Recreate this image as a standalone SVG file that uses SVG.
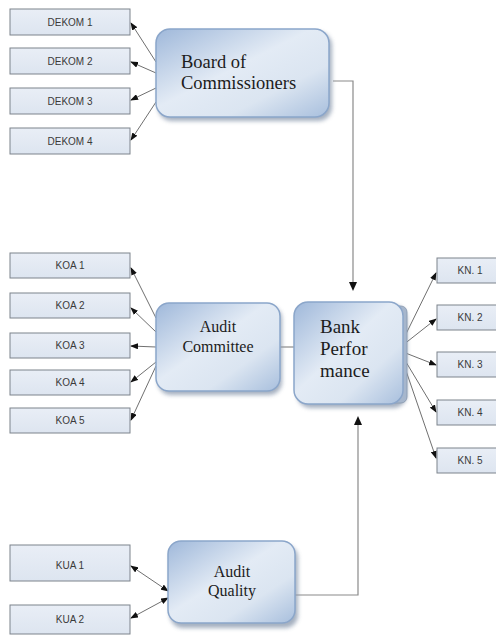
<svg xmlns="http://www.w3.org/2000/svg" width="496" height="635" viewBox="0 0 496 635">
<defs>
<linearGradient id="big" x1="0" y1="0" x2="1" y2="1">
<stop offset="0" stop-color="#9fb8da"/>
<stop offset="0.45" stop-color="#e3ebf5"/>
<stop offset="0.7" stop-color="#dbe5f1"/>
<stop offset="1" stop-color="#a8bfdd"/>
</linearGradient>
<linearGradient id="small" x1="0" y1="0" x2="0" y2="1">
<stop offset="0" stop-color="#e9eef6"/>
<stop offset="1" stop-color="#dde5f0"/>
</linearGradient>
<filter id="sh" x="-10%" y="-10%" width="130%" height="130%">
<feGaussianBlur stdDeviation="2"/>
</filter>
<marker id="ah" markerWidth="8" markerHeight="6" refX="7" refY="3" orient="auto" markerUnits="userSpaceOnUse">
<path d="M0,0 L8,3 L0,6 Z" fill="#111"/>
</marker>
<marker id="as" markerWidth="8" markerHeight="6" refX="1" refY="3" orient="auto" markerUnits="userSpaceOnUse">
<path d="M8,0 L0,3 L8,6 Z" fill="#111"/>
</marker>
</defs>
<style>
.sb{fill:url(#small);stroke:#7d838c;stroke-width:1}
.st{font-family:"Liberation Sans",Arial,sans-serif;font-size:10px;fill:#3a3a3a;text-anchor:middle}
.bb{fill:url(#big);stroke:#8ba6ca;stroke-width:1.5}
.bsh{fill:#8e9cb0;opacity:0.8;filter:url(#sh)}
.bt{font-family:"Liberation Serif","Times New Roman",serif;fill:#1c1c1c}
.c{fill:none;stroke:#4a4a4a;stroke-width:0.8}
.g{fill:none;stroke:#8a8a8a;stroke-width:1.2}
</style>
<rect width="496" height="635" fill="#ffffff"/>

<g id="connectors">
<line class="c" x1="156" y1="62" x2="131" y2="23" marker-end="url(#ah)"/>
<line class="c" x1="156" y1="73" x2="131" y2="62" marker-end="url(#ah)"/>
<line class="c" x1="156" y1="88" x2="131" y2="100" marker-end="url(#ah)"/>
<line class="c" x1="156" y1="102" x2="131" y2="140" marker-end="url(#ah)"/>
<line class="c" x1="156" y1="318" x2="131" y2="268" marker-end="url(#ah)"/>
<line class="c" x1="156" y1="332" x2="131" y2="308" marker-end="url(#ah)"/>
<line class="c" x1="156" y1="347" x2="131" y2="346" marker-end="url(#ah)"/>
<line class="c" x1="156" y1="362" x2="131" y2="382" marker-end="url(#ah)"/>
<line class="c" x1="156" y1="366" x2="131" y2="420" marker-end="url(#ah)"/>
<line class="g" x1="280" y1="347" x2="295" y2="347"/>
<polyline class="g" points="333,81 353,81 353,283"/>
<path d="M349,282 L357,282 L353,291 Z" fill="#111"/>
<polyline class="g" points="295,595 358,595 358,425"/>
<path d="M354,425 L362,425 L358,416 Z" fill="#111"/>
<line class="c" x1="403" y1="340" x2="436" y2="273" marker-end="url(#ah)"/>
<line class="c" x1="403" y1="345" x2="436" y2="319" marker-end="url(#ah)"/>
<line class="c" x1="403" y1="352" x2="436" y2="365" marker-end="url(#ah)"/>
<line class="c" x1="403" y1="357" x2="436" y2="412" marker-end="url(#ah)"/>
<line class="c" x1="403" y1="362" x2="436" y2="458" marker-end="url(#ah)"/>
<line class="c" x1="168" y1="591" x2="131" y2="566" marker-start="url(#as)" marker-end="url(#ah)"/>
<line class="c" x1="168" y1="598" x2="131" y2="618" marker-start="url(#as)" marker-end="url(#ah)"/>
</g>

<g id="dekom1"><rect class="sb" x="10" y="9" width="120" height="26"/><text class="st" x="70" y="26">DEKOM 1</text></g>
<g id="dekom2"><rect class="sb" x="10" y="48" width="120" height="26"/><text class="st" x="70" y="65">DEKOM 2</text></g>
<g id="dekom3"><rect class="sb" x="10" y="88" width="120" height="26"/><text class="st" x="70" y="105">DEKOM 3</text></g>
<g id="dekom4"><rect class="sb" x="10" y="128" width="120" height="26"/><text class="st" x="70" y="145">DEKOM 4</text></g>

<g id="koa1"><rect class="sb" x="10" y="253" width="120" height="25"/><text class="st" x="70" y="269">KOA 1</text></g>
<g id="koa2"><rect class="sb" x="10" y="293" width="120" height="25"/><text class="st" x="70" y="309">KOA 2</text></g>
<g id="koa3"><rect class="sb" x="10" y="333" width="120" height="25"/><text class="st" x="70" y="349">KOA 3</text></g>
<g id="koa4"><rect class="sb" x="10" y="370" width="120" height="25"/><text class="st" x="70" y="386">KOA 4</text></g>
<g id="koa5"><rect class="sb" x="10" y="408" width="120" height="25"/><text class="st" x="70" y="424">KOA 5</text></g>

<g id="kn1"><rect class="sb" x="437" y="258" width="64" height="25"/><text class="st" x="470" y="274">KN. 1</text></g>
<g id="kn2"><rect class="sb" x="437" y="305" width="64" height="25"/><text class="st" x="470" y="321">KN. 2</text></g>
<g id="kn3"><rect class="sb" x="437" y="352" width="64" height="25"/><text class="st" x="470" y="368">KN. 3</text></g>
<g id="kn4"><rect class="sb" x="437" y="400" width="64" height="25"/><text class="st" x="470" y="416">KN. 4</text></g>
<g id="kn5"><rect class="sb" x="437" y="448" width="64" height="25"/><text class="st" x="470" y="464">KN. 5</text></g>

<g id="kua1"><rect class="sb" x="10" y="545" width="120" height="36"/><text class="st" x="70" y="569">KUA 1</text></g>
<g id="kua2"><rect class="sb" x="10" y="605" width="120" height="29"/><text class="st" x="70" y="623">KUA 2</text></g>

<g id="board">
<rect class="bsh" x="158" y="32" width="174" height="89" rx="14"/>
<rect class="bb" x="156" y="29" width="173" height="88" rx="14"/>
<text class="bt" font-size="18.5" x="181" y="68">Board of</text>
<text class="bt" font-size="18.5" x="181" y="89">Commissioners</text>
</g>

<g id="auditcommittee">
<rect class="bsh" x="158" y="306" width="124" height="89" rx="13"/>
<rect class="bb" x="156" y="303" width="124" height="88" rx="13"/>
<text class="bt" font-size="16" x="218" y="332" text-anchor="middle">Audit</text>
<text class="bt" font-size="16" x="218" y="352" text-anchor="middle">Committee</text>
</g>

<g id="bankperformance">
<rect class="bsh" x="297" y="305" width="110" height="103" rx="14"/>
<rect x="300" y="306" width="107" height="97" rx="6" fill="#a6b6cc" stroke="#8797ad" stroke-width="0.8"/>
<rect class="bb" x="294" y="302" width="109" height="102" rx="14"/>
<text class="bt" font-size="19" x="320" y="333">Bank</text>
<text class="bt" font-size="19" x="320" y="355">Perfor</text>
<text class="bt" font-size="19" x="320" y="377">mance</text>
</g>

<g id="auditquality">
<rect class="bsh" x="170" y="545" width="128" height="83" rx="13"/>
<rect class="bb" x="168" y="541" width="127" height="82" rx="13"/>
<text class="bt" font-size="16" x="232" y="577" text-anchor="middle">Audit</text>
<text class="bt" font-size="16" x="232" y="596" text-anchor="middle">Quality</text>
</g>
</svg>
